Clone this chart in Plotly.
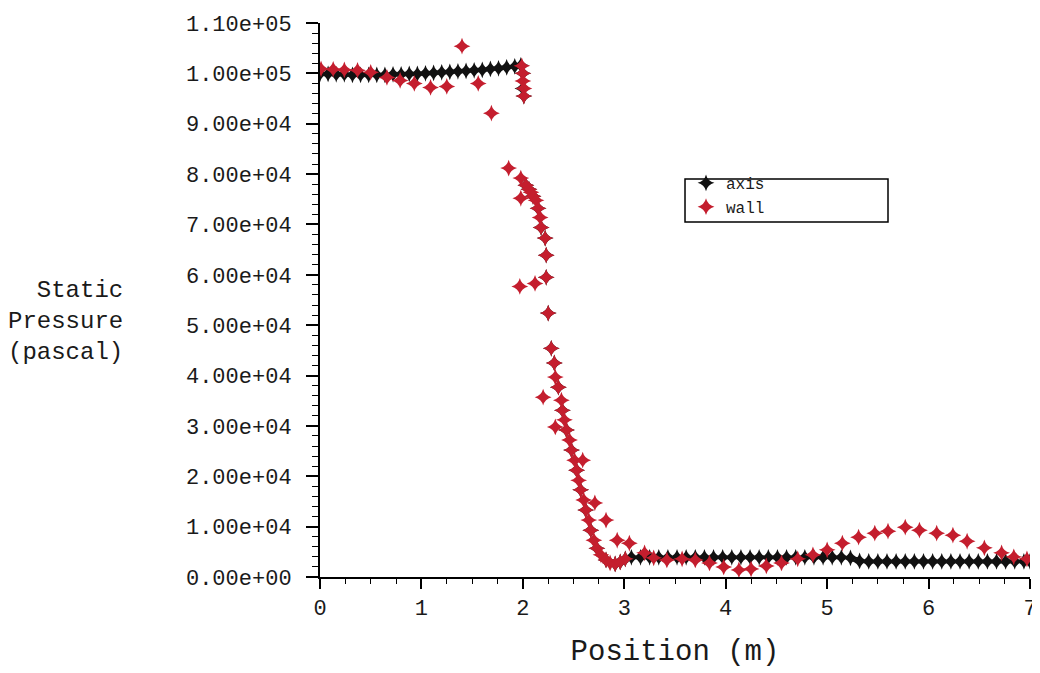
import plotly.graph_objects as go

# ---------------- data ----------------
axis_x = [0.00, 0.08, 0.16, 0.24, 0.32, 0.40, 0.48, 0.56, 0.64, 0.72, 0.80, 0.88, 0.96,
          1.04, 1.12, 1.20, 1.28, 1.36, 1.44, 1.52, 1.60, 1.68, 1.76, 1.84, 1.92, 1.98,
          2.00, 2.00, 2.01, 2.03, 2.06, 2.10, 2.15, 2.18, 2.22, 2.23, 2.23, 2.25, 2.28,
          2.31, 2.35, 2.39, 2.43, 2.48, 2.53, 2.57, 2.62, 2.67, 2.73, 2.82, 2.91, 2.96,
          3.01, 3.07, 3.16, 3.25, 3.34, 3.43, 3.52, 3.61, 3.70, 3.79, 3.88, 3.97, 4.06,
          4.15, 4.24, 4.33, 4.42, 4.51, 4.60, 4.69, 4.78, 4.87, 4.96, 5.05, 5.14, 5.23,
          5.32, 5.41, 5.50, 5.59, 5.68, 5.77, 5.86, 5.95, 6.04, 6.13, 6.22, 6.31, 6.40,
          6.49, 6.58, 6.67, 6.76, 6.85, 6.94, 7.00]
axis_p = [99900, 99900, 99800, 99800, 99700, 99700, 99700, 99700, 99700, 99800, 99800, 99900, 99900,
          100000, 100100, 100200, 100300, 100400, 100500, 100600, 100700, 100900, 101000, 101200, 101400, 101600,
          100000, 97000, 95500, 77800, 77000, 75600, 73200, 69400, 67300, 63900, 59500, 52400, 45400,
          42500, 37700, 33100, 29200, 25200, 21200, 17300, 13300, 9300, 5700, 3400, 2600, 3000,
          3600, 3900, 3900, 3900, 3900, 3900, 3900, 3900, 3900, 3900, 3900, 3900, 3900,
          3900, 3900, 3900, 3900, 3900, 3900, 3900, 3900, 3900, 3900, 3900, 3900, 3800,
          3200, 3100, 3100, 3100, 3100, 3100, 3100, 3100, 3100, 3100, 3100, 3100, 3100,
          3100, 3100, 3100, 3100, 3100, 3100, 3100]

wall_x = [0.01, 0.13, 0.24, 0.37, 0.50, 0.66, 0.79, 0.93, 1.09, 1.25, 1.40, 1.56, 1.69, 1.86,
          1.99, 2.00, 2.00, 2.01, 2.01,
          1.98, 1.98, 2.03, 2.06, 2.08, 2.10, 2.13, 2.15, 2.17, 2.18, 2.22, 2.23, 2.23, 2.12,
          1.97, 2.25, 2.28,
          2.31, 2.32, 2.35, 2.38, 2.39, 2.41, 2.43, 2.46, 2.48, 2.51, 2.53, 2.55, 2.57, 2.60,
          2.62, 2.65, 2.67, 2.70, 2.73, 2.77, 2.82, 2.86, 2.91, 2.96, 3.01,
          2.20, 2.32, 2.59, 2.71, 2.82, 2.93, 3.05, 3.20,
          3.29, 3.42, 3.57, 3.70, 3.84, 3.98, 4.13, 4.25, 4.40, 4.55, 4.71, 4.86, 5.00,
          5.15, 5.31, 5.47, 5.60, 5.77, 5.91, 6.08, 6.24, 6.38, 6.55, 6.72, 6.84, 6.97]
wall_p = [100900, 100800, 100700, 100600, 100200, 99200, 98600, 98000, 97200, 97400, 105400, 98000, 92100, 81200,
          101500, 100000, 98500, 97000, 95500,
          79200, 75200, 77800, 77000, 76400, 75600, 74800, 73200, 71400, 69400, 67300, 63900, 59500, 58300,
          57700, 52400, 45400,
          42500, 39700, 37700, 35100, 33100, 31200, 29200, 27200, 25200, 23200, 21200, 19200, 17300, 15300,
          13300, 11300, 9300, 7300, 5700, 4400, 3400, 2800, 2600, 3000, 3600,
          35700, 29800, 23200, 14700, 11300, 7300, 6700, 4800,
          3800, 3400, 3600, 3400, 2800, 2000, 1400, 1600, 2200, 2800, 3600, 4400, 5400,
          6700, 7900, 8700, 9100, 9900, 9300, 8700, 8300, 7100, 5800, 4800, 4000, 3600]

y_tick_vals = [0, 10000, 20000, 30000, 40000, 50000, 60000, 70000, 80000, 90000, 100000, 110000]
y_tick_text = ["0.00e+00", "1.00e+04", "2.00e+04", "3.00e+04", "4.00e+04", "5.00e+04",
               "6.00e+04", "7.00e+04", "8.00e+04", "9.00e+04", "1.00e+05", "1.10e+05"]
x_tick_vals = [0, 1, 2, 3, 4, 5, 6, 7]
x_tick_text = ["0", "1", "2", "3", "4", "5", "6", "7"]

FONT = "Liberation Mono"
TXT = "#1a1a1a"

fig = go.Figure()
fig.add_trace(go.Scatter(x=axis_x, y=axis_p, mode="markers", name="axis",
                         marker=dict(symbol="star-diamond", size=12, color="#111111")))
fig.add_trace(go.Scatter(x=wall_x, y=wall_p, mode="markers", name="wall",
                         marker=dict(symbol="star-diamond", size=12, color="#c41e2e")))

# plot area: 312..1022 inside the 1032-wide figure (page offset 8 px)
fig.update_layout(
    width=1032, height=665,
    margin=dict(l=312, r=10, t=15, b=96),
    paper_bgcolor="white", plot_bgcolor="white",
    font=dict(family=FONT, color=TXT),
    showlegend=True,
    legend=dict(x=0.5155, y=0.742, xanchor="left", yanchor="top",
                bgcolor="rgba(0,0,0,0)", borderwidth=0,
                font=dict(family=FONT, size=16, color=TXT),
                itemwidth=30),
    shapes=[dict(type="rect", xref="paper", yref="paper",
                 x0=0.5141, x1=0.8000, y0=0.6408, y1=0.7184,
                 line=dict(color="black", width=1.5), fillcolor="rgba(0,0,0,0)")],
    annotations=[dict(text="Static<br>Pressure<br>(pascal)", xref="paper", yref="paper",
                      x=-0.2746, y=0.462, xanchor="right", yanchor="middle", align="right",
                      showarrow=False, font=dict(family=FONT, size=24, color=TXT))],
)

fig.update_xaxes(
    range=[0, 7], tickmode="array", tickvals=x_tick_vals, ticktext=x_tick_text,
    showgrid=False, zeroline=False, showline=True, linecolor="black", linewidth=2,
    ticks="outside", ticklen=10, tickwidth=1.5, tickcolor="black",
    ticklabeloverflow="allow",
    tickfont=dict(family=FONT, size=22, color=TXT),
    minor=dict(dtick=0.25, tick0=0, ticks="outside", ticklen=5, tickwidth=1.2, tickcolor="black"),
    title=dict(text="Position (m)", font=dict(family=FONT, size=29, color=TXT), standoff=18),
    automargin=False,
)
fig.update_yaxes(
    range=[0, 110000], tickmode="array", tickvals=y_tick_vals, ticktext=y_tick_text,
    showgrid=False, zeroline=False, showline=True, linecolor="black", linewidth=2,
    ticks="outside", ticklen=12, tickwidth=1.5, tickcolor="black", ticklabelstandoff=10,
    tickfont=dict(family=FONT, size=22, color=TXT),
    minor=dict(dtick=2000, tick0=0, ticks="outside", ticklen=6, tickwidth=1.2, tickcolor="black"),
    automargin=False,
)

fig.write_html("out.html")
